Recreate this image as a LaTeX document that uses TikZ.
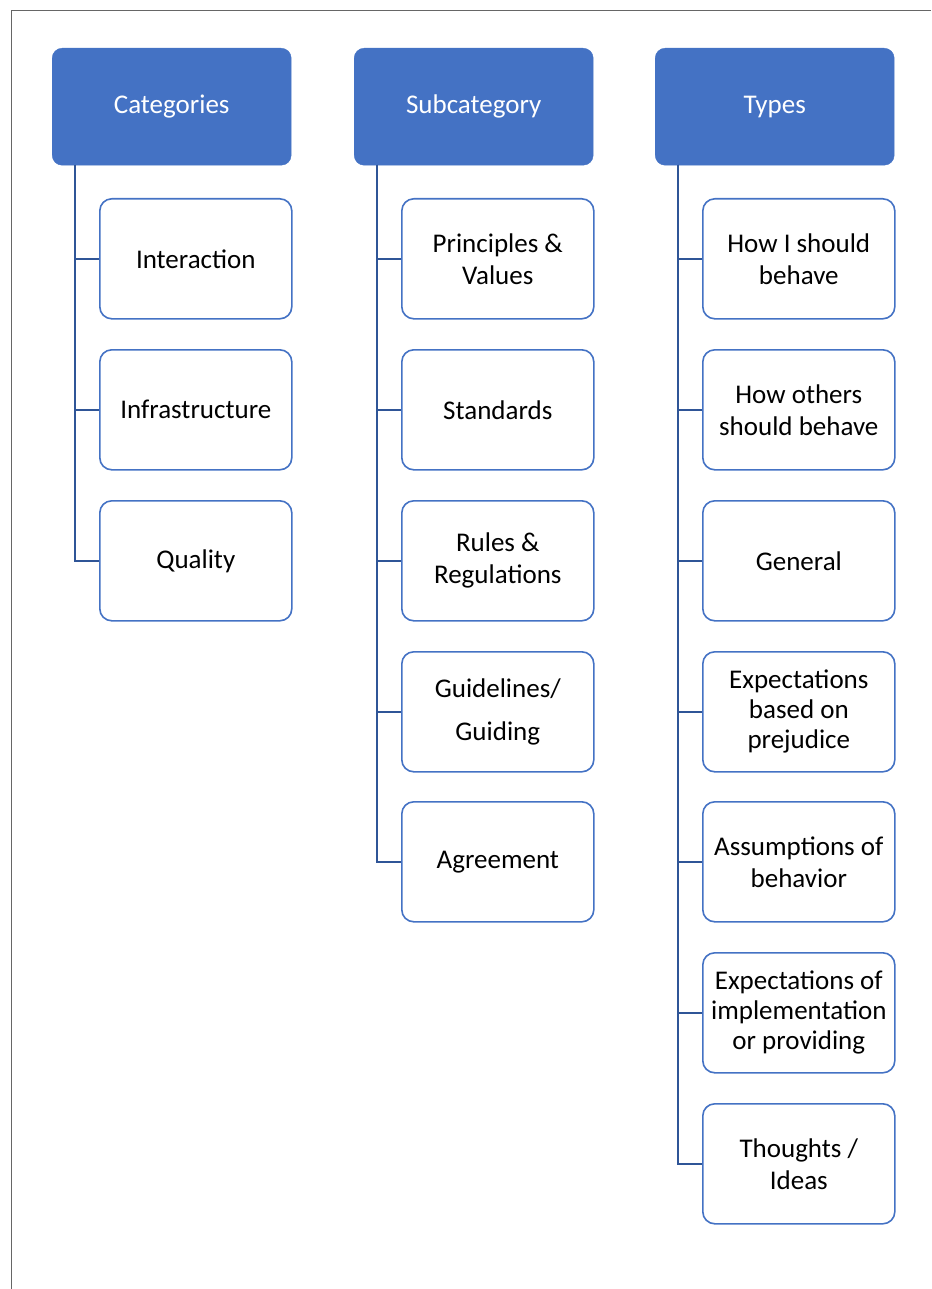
\documentclass[tikz,border=0pt]{standalone}
\usepackage{fontspec}
\setmainfont{Carlito}
\definecolor{hdr}{HTML}{4472C4}
\definecolor{lin}{HTML}{2F5597}
\begin{document}
\begin{tikzpicture}[x=1pt,y=-1pt,
  header/.style={draw=hdr,fill=hdr,rounded corners=10pt,minimum width=239pt,minimum height=117pt,text=white,font=\fontsize{27}{32}\selectfont,anchor=north west,inner sep=0pt},
  child/.style={draw=hdr,line width=1.6pt,fill=white,rounded corners=12pt,minimum width=192pt,minimum height=120pt,font=\fontsize{27}{32}\selectfont,align=center,anchor=north west,inner sep=0pt},
  conn/.style={draw=lin,line width=1.8pt},
  frame/.style={draw=black!60,line width=1pt}]
\useasboundingbox (0,0) rectangle (931,1289);
\draw[frame] (11,1289) -- (11,11) -- (931,11);
% headers
\node[header] (h1) at (52,48) {Categories};
\node[header] (h2) at (354,48) {Subcategory};
\node[header] (h3) at (655,48) {Types};
% trunk start coordinates
\coordinate (t1) at (75,165);
\coordinate (t2) at (377,165);
\coordinate (t3) at (678,165);
% column 1
\node[child] (a1) at (99,198) {Interaction};
\node[child] (a2) at (99,349) {Infrastructure};
\node[child] (a3) at (99,500) {Quality};
% column 2
\node[child] (b1) at (401,198) {Principles \&\\Values};
\node[child] (b2) at (401,349) {Standards};
\node[child] (b3) at (401,500) {Rules \&\\Regulations};
\node[child,font=\fontsize{27}{43}\selectfont] (b4) at (401,651) {Guidelines/\\Guiding};
\node[child] (b5) at (401,801) {Agreement};
% column 3
\node[child] (c1) at (702,198) {How I should\\behave};
\node[child] (c2) at (702,349) {How others\\should behave};
\node[child] (c3) at (702,500) {General};
\node[child,font=\fontsize{27}{30}\selectfont] (c4) at (702,651) {Expectations\\based on\\prejudice};
\node[child] (c5) at (702,801) {Assumptions of\\behavior};
\node[child,font=\fontsize{27}{30}\selectfont] (c6) at (702,952) {Expectations of\\implementation\\or providing};
\node[child] (c7) at (702,1103) {Thoughts /\\Ideas};
% connectors
\foreach \n in {a1,a2,a3} \draw[conn] (t1) |- (\n.west);
\foreach \n in {b1,b2,b3,b4,b5} \draw[conn] (t2) |- (\n.west);
\foreach \n in {c1,c2,c3,c4,c5,c6,c7} \draw[conn] (t3) |- (\n.west);
\end{tikzpicture}
\end{document}
